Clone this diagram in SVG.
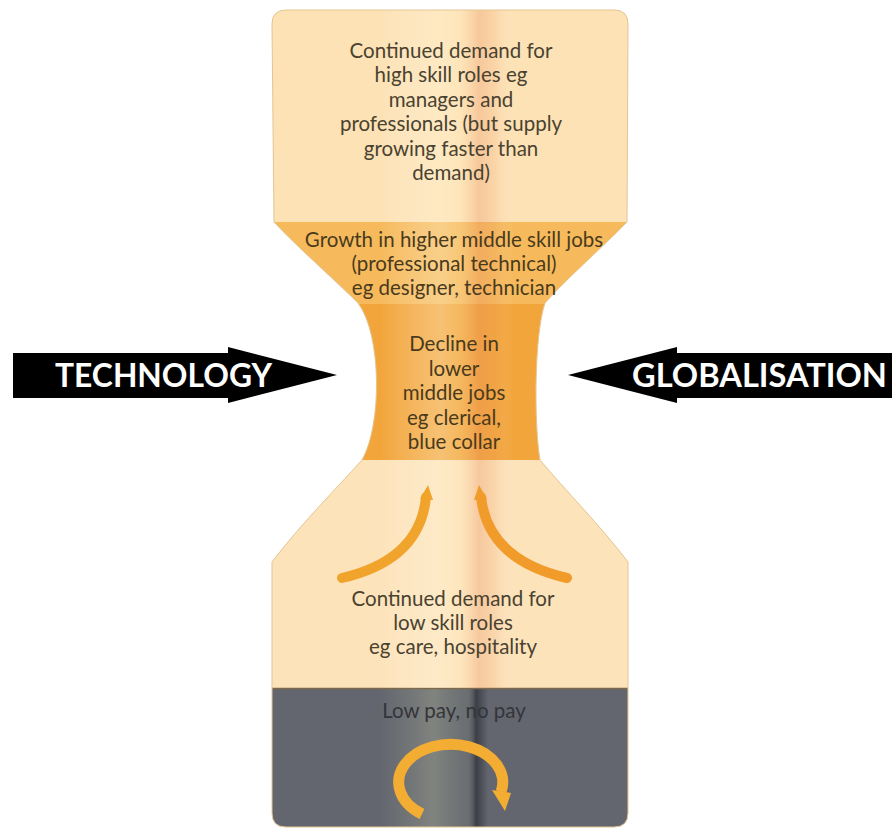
<svg xmlns="http://www.w3.org/2000/svg" width="896" height="835" viewBox="0 0 896 835">
  <defs>
    <style>
      .t { font-family: Lato, "Liberation Sans", sans-serif; font-size: 20.5px; text-anchor: middle; fill: #4a4230; }
      .tn { fill: #4a3a1c; }
      .tg { fill: #34353a; }
      .big { font-family: Lato, "Liberation Sans", sans-serif; font-weight: 700; font-size: 33px; fill: #ffffff; }
      .arc { fill: none; stroke: #f1a42c; stroke-width: 10; stroke-linecap: round; }
      .head { fill: #f1a42c; }
    </style>
    <clipPath id="hg">
      <path id="outline" d="M 286,10 L 614,10 Q 628,10 628,24 L 627,222 C 605,245 565,280 545,303 C 534,335 534,425 540,460 C 565,490 600,525 628,562 L 628,813 Q 628,827 614,827 L 286,827 Q 272,827 272,813 L 272,562 C 300,525 335,490 362,460 C 382,425 382,335 358,303 C 335,280 295,245 274,222 L 272,24 Q 272,10 286,10 Z"/>
    </clipPath>
    <linearGradient id="band" gradientUnits="userSpaceOnUse" x1="380" y1="0" x2="540" y2="0">
      <stop offset="0" stop-color="#ffffff" stop-opacity="0"/>
      <stop offset="0.38" stop-color="#fff6dc" stop-opacity="0.35"/>
      <stop offset="0.5" stop-color="#fff0c8" stop-opacity="0.25"/>
      <stop offset="0.62" stop-color="#e98f62" stop-opacity="0.32"/>
      <stop offset="0.72" stop-color="#ec9b6c" stop-opacity="0.18"/>
      <stop offset="0.84" stop-color="#ffffff" stop-opacity="0"/>
    </linearGradient>
    <linearGradient id="gband" gradientUnits="userSpaceOnUse" x1="380" y1="0" x2="500" y2="0">
      <stop offset="0" stop-color="#a0a090" stop-opacity="0"/>
      <stop offset="0.45" stop-color="#a4a890" stop-opacity="0.45"/>
      <stop offset="0.72" stop-color="#8c9080" stop-opacity="0.2"/>
      <stop offset="0.8" stop-color="#2e3138" stop-opacity="0.75"/>
      <stop offset="0.9" stop-color="#2e3138" stop-opacity="0"/>
    </linearGradient>
  </defs>

  <rect x="0" y="0" width="896" height="835" fill="#ffffff"/>

  <g id="hourglass" clip-path="url(#hg)">
    <g id="high-skill">
      <rect x="260" y="0" width="380" height="222" fill="#fde2b5"/>
    </g>
    <g id="higher-middle">
      <rect x="260" y="222" width="380" height="82" fill="#f6ba5c"/>
    </g>
    <g id="lower-middle">
      <rect x="260" y="304" width="380" height="156" fill="#f2a53b"/>
    </g>
    <g id="low-skill">
      <rect x="260" y="460" width="380" height="228" fill="#fde3ba"/>
    </g>
    <g id="low-pay">
      <rect x="260" y="688" width="380" height="147" fill="#63666f"/>
      <rect x="260" y="688" width="380" height="147" fill="url(#gband)"/>
      <line x1="260" y1="688.5" x2="640" y2="688.5" stroke="#7d6a4c" stroke-width="1.5"/>
    </g>
    <rect x="260" y="0" width="380" height="688" fill="url(#band)"/>
  </g>
  <use href="#outline" fill="none" stroke="#e3c592" stroke-width="1"/>

  <g id="texts">
    <text class="t" x="451" y="58">Continued demand for</text>
    <text class="t" x="451" y="82.4">high skill roles eg</text>
    <text class="t" x="451" y="106.8">managers and</text>
    <text class="t" x="451" y="131.2">professionals (but supply</text>
    <text class="t" x="451" y="155.6">growing faster than</text>
    <text class="t" x="451" y="180">demand)</text>

    <text class="t tn" x="454" y="247">Growth in higher middle skill jobs</text>
    <text class="t tn" x="454" y="271">(professional technical)</text>
    <text class="t tn" x="454" y="295">eg designer, technician</text>

    <text class="t tn" x="454" y="351">Decline in</text>
    <text class="t tn" x="454" y="375.5">lower</text>
    <text class="t tn" x="454" y="400">middle jobs</text>
    <text class="t tn" x="454" y="424.5">eg clerical,</text>
    <text class="t tn" x="454" y="449">blue collar</text>

    <text class="t" x="453" y="606">Continued demand for</text>
    <text class="t" x="453" y="630">low skill roles</text>
    <text class="t" x="453" y="654">eg care, hospitality</text>

    <text class="t tg" x="454" y="718">Low pay, no pay</text>
  </g>

  <g id="technology">
    <polygon points="13,353 228,353 228,347 337,375 228,403 228,398 13,398" fill="#000000"/>
    <text class="big" x="55" y="387" textLength="217" lengthAdjust="spacingAndGlyphs">TECHNOLOGY</text>
  </g>

  <g id="globalisation">
    <polygon points="568,375 677,347 677,353 892,353 892,398 677,398 677,403" fill="#000000"/>
    <text class="big" x="632" y="387" textLength="255" lengthAdjust="spacingAndGlyphs">GLOBALISATION</text>
  </g>

  <g id="connectors">
    <path class="arc" d="M 342,578 Q 420,560 426,497"/>
    <polygon class="head" points="428,485 420,499 433,500"/>
    <path class="arc" d="M 567,578 Q 488,560 481,497" style="stroke:#f19b2a"/>
    <polygon class="head" points="479,485 474,500 487,499" style="fill:#f19b2a"/>
    <path class="arc" d="M 422,814 A 52 38 0 1 1 501,792" style="stroke:#f2ad32;stroke-width:11;stroke-linecap:butt"/>
    <polygon class="head" points="492,790 511,793 505,811" style="fill:#f2ad32"/>
  </g>
</svg>
